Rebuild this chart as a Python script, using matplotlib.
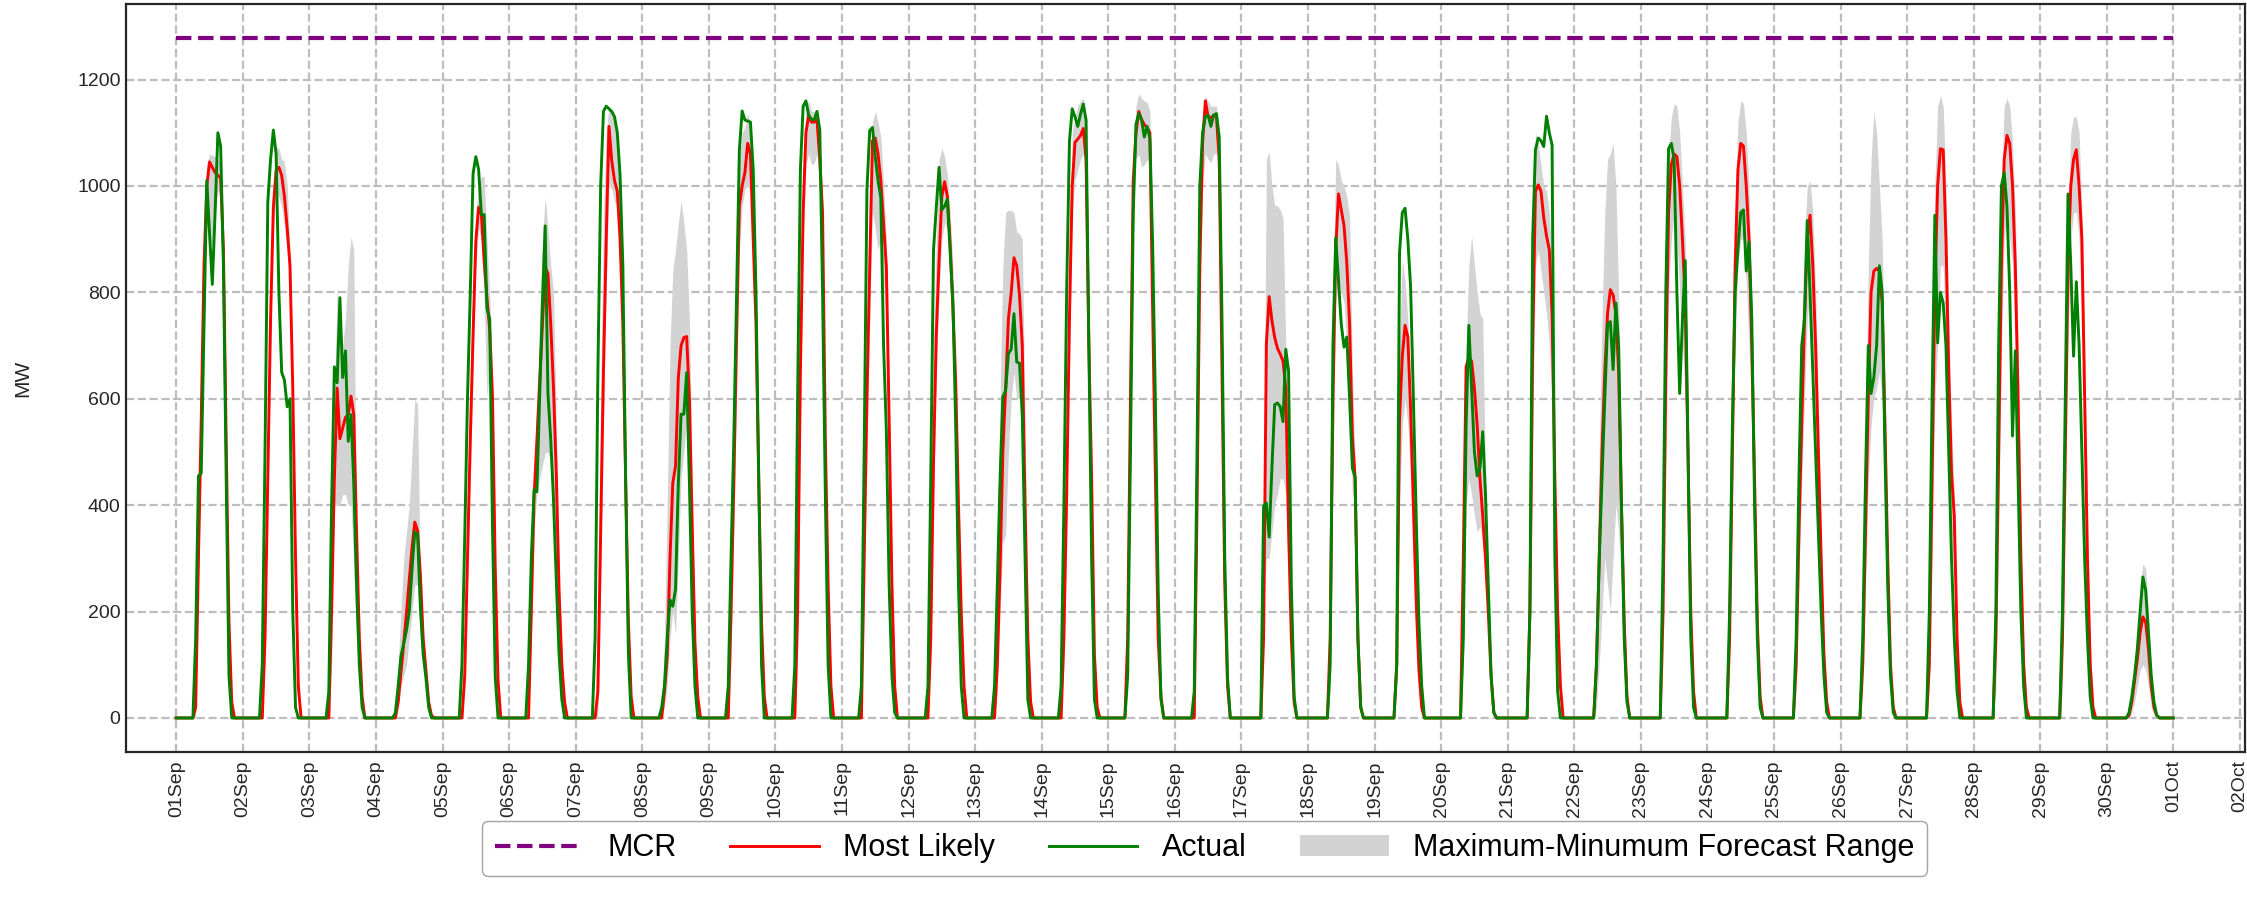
import numpy as np
import pandas as pd
import matplotlib
matplotlib.use('Agg')
import matplotlib.pyplot as plt
import matplotlib.dates as mdates
from matplotlib.patches import Patch
from matplotlib.lines import Line2D

plt.rcParams['font.family'] = ['Liberation Sans', 'DejaVu Sans']

# hours of the day covered by each daily row (06:00 .. 21:00)
HOURS = list(range(6, 22))
START = '2023-09-01 00:00'
N_DAYS = 30
MCR = 1278

actual = [
    [0,150,455,460,740,1010,910,815,950,1100,1075,850,450,80,0,0],
    [0,100,500,970,1050,1105,1060,800,650,635,585,600,200,20,0,0],
    [0,50,400,660,630,790,640,690,520,570,440,250,100,20,0,0],
    [0,10,60,116,140,165,200,280,350,345,210,120,76,20,0,0],
    [0,100,340,604,800,1023,1055,1031,946,946,770,750,360,76,0,0],
    [0,100,300,429,425,600,780,925,610,523,410,260,120,35,0,0],
    [0,150,650,1000,1140,1150,1145,1140,1130,1100,1020,850,450,120,0,0],
    [0,20,60,150,222,210,242,441,571,571,649,441,200,60,0,0],
    [0,60,300,523,800,1067,1141,1124,1122,1120,1030,800,450,100,0,0],
    [0,100,600,1030,1150,1160,1133,1125,1125,1140,1105,800,420,100,0,0],
    [0,60,500,994,1104,1110,1055,1010,978,700,540,250,80,10,0,0],
    [0,60,450,880,960,1035,955,962,975,875,780,550,250,60,0,0],
    [0,60,250,450,604,615,685,693,760,669,667,570,300,35,0,0],
    [0,60,400,800,1084,1145,1130,1112,1135,1154,1124,700,300,35,0,0],
    [0,80,500,950,1116,1136,1124,1092,1112,1090,890,590,240,35,0,0],
    [0,50,500,1000,1100,1130,1133,1112,1133,1136,1092,750,300,76,0,0],
    [0,0,398,404,340,470,589,592,585,557,693,652,250,40,0,0],
    [0,0,100,700,903,820,740,697,716,600,470,452,150,20,0,0],
    [0,0,100,874,950,958,900,810,600,380,180,60,0,0,0,0],
    [0,0,150,550,738,620,500,455,470,538,420,250,80,10,0,0],
    [0,0,200,900,1068,1090,1085,1074,1131,1100,1077,300,50,0,0,0],
    [0,0,100,300,450,600,740,745,655,780,700,400,150,30,0,0],
    [0,0,300,800,1070,1080,1050,800,610,750,860,500,150,20,0,0],
    [0,0,200,550,800,880,950,955,840,895,750,400,150,20,0,0],
    [0,0,150,450,700,750,935,800,650,500,350,200,80,10,0,0],
    [0,0,150,450,700,610,640,700,850,800,500,250,80,10,0,0],
    [0,0,200,600,945,705,800,780,700,500,300,150,50,0,0,0],
    [0,0,200,700,1000,1025,960,800,530,690,450,200,60,0,0,0],
    [0,0,200,600,985,850,680,820,700,500,300,150,40,0,0,0],
    [0,0,10,40,80,130,200,265,240,160,80,30,5,0,0,0],
]

most_likely = [
    [0,20,300,560,850,1000,1045,1035,1025,1020,1015,880,520,180,30,0],
    [0,0,150,450,750,960,1030,1035,1020,980,920,850,620,300,60,0],
    [0,0,200,450,620,525,545,565,570,605,570,350,150,40,0,0],
    [0,0,30,84,140,198,260,320,368,352,270,150,90,30,5,0],
    [0,0,80,300,523,720,897,960,946,860,790,730,604,279,70,0],
    [0,0,200,417,520,630,740,848,835,740,620,460,238,100,30,0],
    [0,0,50,350,650,897,1112,1047,1010,990,900,740,450,180,40,0],
    [0,0,50,116,300,441,474,640,700,715,717,600,360,140,40,0],
    [0,0,200,441,720,962,1000,1025,1080,1060,900,740,441,180,40,0],
    [0,0,200,650,950,1100,1133,1120,1120,1124,1050,950,523,250,60,0],
    [0,0,300,600,848,1085,1090,1060,1010,930,848,560,250,60,0,0],
    [0,0,150,480,720,860,980,1008,980,890,767,630,400,198,60,0],
    [0,0,100,280,500,620,750,799,865,850,795,700,400,150,30,0],
    [0,0,150,420,750,1000,1082,1088,1095,1108,1050,700,450,120,20,0],
    [0,150,600,1010,1100,1140,1125,1115,1110,1100,767,450,150,40,0,0],
    [0,0,400,850,1080,1160,1130,1128,1133,1130,1051,650,250,60,0,0],
    [0,0,150,703,792,747,715,695,684,671,620,355,150,30,0,0],
    [0,0,150,600,880,985,955,925,855,740,530,450,150,20,0,0],
    [0,0,100,560,680,738,716,580,398,220,90,20,0,0,0,0],
    [0,0,300,660,678,670,620,550,450,380,300,200,80,10,0,0],
    [0,0,200,700,990,1002,990,940,906,880,760,450,200,60,0,0],
    [0,0,100,300,500,650,760,805,795,760,650,400,180,40,0,0],
    [0,0,200,650,950,1040,1060,1055,1000,900,780,500,200,50,0,0],
    [0,0,150,500,850,1030,1080,1075,1000,900,700,450,180,40,0,0],
    [0,0,100,350,550,750,900,945,850,700,500,300,120,30,0,0],
    [0,0,100,350,600,800,840,845,840,780,550,300,100,20,0,0],
    [0,0,100,450,800,1000,1070,1068,900,650,460,380,150,30,0,0],
    [0,0,150,500,850,1050,1095,1080,1000,850,600,300,100,20,0,0],
    [0,0,150,500,850,1000,1050,1068,1000,900,600,300,100,20,0,0],
    [0,0,5,30,70,110,160,190,180,130,60,20,5,0,0,0],
]

forecast_max = [
    [0,40,350,600,900,1040,1060,1058,1055,1050,1040,900,560,210,40,0],
    [0,0,200,500,800,1000,1075,1070,1050,1045,1000,880,650,330,80,0],
    [0,20,300,600,807,750,700,750,850,905,880,300,150,40,0,0],
    [0,20,100,200,300,350,400,500,598,590,250,180,100,40,0,0],
    [0,10,150,400,620,820,950,1000,1018,1018,897,800,650,320,90,0],
    [0,20,250,450,600,750,900,978,920,850,800,550,300,130,40,0],
    [0,0,200,600,950,1100,1150,1140,1120,1100,1000,800,500,200,50,0],
    [0,20,150,400,700,840,880,930,972,930,880,750,450,180,50,0],
    [0,20,300,600,850,1050,1100,1110,1135,1120,1000,800,500,200,50,0],
    [0,20,300,750,1050,1150,1160,1140,1140,1145,1100,980,560,280,80,0],
    [0,20,400,750,1000,1120,1140,1120,1092,1000,900,620,300,80,0,0],
    [0,20,300,700,900,1050,1071,1055,1020,950,850,700,450,230,70,0],
    [0,20,300,600,850,950,954,954,950,913,910,900,550,200,50,0],
    [0,20,250,550,900,1100,1130,1150,1160,1165,1120,800,500,150,30,0],
    [0,200,700,1050,1150,1173,1165,1160,1157,1140,850,520,200,60,0,0],
    [0,30,550,950,1120,1169,1160,1150,1150,1150,1100,720,300,80,0,0],
    [0,0,400,1050,1064,1000,963,963,955,940,700,400,200,50,0,0],
    [0,0,250,800,1050,1040,1010,1000,980,944,650,480,200,40,0,0],
    [0,0,150,700,862,820,750,600,420,250,100,20,0,0,0,0],
    [0,0,300,700,850,906,850,800,760,750,450,250,100,20,0,0],
    [0,0,300,800,1100,1080,1040,1000,990,950,850,500,250,80,0,0],
    [0,0,200,500,750,950,1050,1060,1080,1000,800,500,250,60,0,0],
    [0,0,300,800,1050,1130,1155,1150,1100,1000,900,600,250,60,0,0],
    [0,0,250,650,950,1120,1160,1155,1100,1000,800,500,220,60,0,0],
    [0,0,200,500,750,900,1000,1010,950,800,600,350,150,40,0,0],
    [0,0,200,550,850,1050,1140,1100,1000,900,650,350,120,30,0,0],
    [0,0,200,650,1000,1150,1170,1150,1000,750,550,420,180,40,0,0],
    [0,0,250,700,1000,1150,1165,1150,1080,950,700,400,150,30,0,0],
    [0,0,200,600,950,1100,1130,1130,1100,950,700,400,150,30,0,0],
    [0,0,10,40,100,170,250,290,280,200,90,30,5,0,0,0],
]

forecast_min = [
    [0,0,250,500,800,950,900,890,950,990,980,840,480,150,20,0],
    [0,0,100,400,700,920,990,980,960,920,880,800,580,270,40,0],
    [0,0,100,400,400,400,420,420,400,400,280,150,60,10,0,0],
    [0,0,20,60,80,100,150,200,250,250,150,100,50,10,0,0],
    [0,0,50,250,450,650,850,920,900,780,604,650,550,230,50,0],
    [0,0,150,350,420,450,474,498,500,480,400,300,180,70,20,0],
    [0,0,0,250,550,800,1000,994,970,962,870,700,400,150,30,0],
    [0,0,20,60,150,200,157,300,450,500,560,450,250,80,20,0],
    [0,0,100,350,600,880,960,994,1000,990,850,650,380,130,30,0],
    [0,0,100,550,880,1040,1060,1040,1043,1060,980,900,480,220,40,0],
    [0,0,200,500,750,950,920,880,900,820,750,480,200,40,0,0],
    [0,0,100,400,650,800,900,930,920,840,700,560,350,160,40,0],
    [0,0,50,200,330,344,500,600,650,600,600,500,250,80,10,0],
    [0,0,100,350,650,950,1010,1030,1050,1060,980,620,380,80,10,0],
    [0,50,450,950,1050,1060,1035,1040,1050,1040,700,400,120,20,0,0],
    [0,0,300,750,1000,1060,1050,1043,1060,1060,1000,580,200,40,0,0],
    [0,0,200,300,300,350,400,420,450,450,420,250,100,20,0,0],
    [0,0,50,450,780,820,800,780,700,600,420,400,100,10,0,0],
    [0,0,50,400,550,600,550,450,300,150,50,0,0,0,0,0],
    [0,0,100,400,450,420,380,350,360,330,250,150,50,0,0,0],
    [0,0,100,500,850,880,840,800,760,700,600,350,150,40,0,0],
    [0,0,20,100,200,300,250,200,300,400,350,250,100,20,0,0],
    [0,0,100,450,800,900,950,900,800,700,600,350,120,20,0,0],
    [0,0,100,400,700,850,900,900,820,700,550,350,120,20,0,0],
    [0,0,50,250,450,600,750,800,700,550,380,200,80,10,0,0],
    [0,0,50,250,450,550,600,620,650,600,400,200,60,10,0,0],
    [0,0,50,300,600,700,850,850,700,500,350,250,80,10,0,0],
    [0,0,50,350,700,900,950,900,850,700,450,200,60,10,0,0],
    [0,0,50,350,700,900,950,950,900,750,500,200,60,10,0,0],
    [0,0,0,10,30,60,90,100,90,60,20,5,0,0,0,0],
]


def to_hourly(rows):
    vals = []
    for row in rows:
        day = [0.0] * 24
        for h, v in zip(HOURS, row):
            day[h] = float(v)
        vals.extend(day)
    vals.append(0.0)
    return np.array(vals)


times = pd.date_range(START, periods=N_DAYS * 24 + 1, freq='h')
act = to_hourly(actual)
ml = to_hourly(most_likely)
fmax = to_hourly(forecast_max)
fmin = to_hourly(forecast_min)
mcr = np.full(len(times), MCR, dtype=float)

fig = plt.figure(figsize=(22.47, 9.09), dpi=100)
ax = fig.add_axes([0.0561, 0.1727, 0.9430, 0.8229])

ax.fill_between(times, fmin, fmax, color='#d3d3d3', linewidth=0, zorder=2)
ax.plot(times, mcr, color='purple', linestyle='--', linewidth=3, zorder=3)
ax.plot(times, ml, color='red', linewidth=2.1, zorder=4)
ax.plot(times, act, color='green', linewidth=2.1, zorder=5)

t0 = pd.Timestamp(START)
ax.set_xlim(t0 - pd.Timedelta(hours=18.1), t0 + pd.Timedelta(days=31, hours=1.8))
ax.set_ylim(-64, 1342)
ax.set_yticks([0, 200, 400, 600, 800, 1000, 1200])
ax.xaxis.set_major_locator(mdates.DayLocator())
ax.xaxis.set_major_formatter(mdates.DateFormatter('%d%b'))
plt.setp(ax.get_xticklabels(), rotation=90)
ax.tick_params(axis='both', labelsize=14, colors='#262626', length=0)
ax.tick_params(axis='x', pad=6)
ax.tick_params(axis='y', pad=4)
ax.set_ylabel('MW', fontsize=15, color='#262626', labelpad=32)

ax.grid(True, linestyle='--', color='#bdbdbd', linewidth=1.6, zorder=0)
ax.set_axisbelow(True)
for s in ax.spines.values():
    s.set_color('#262626')
    s.set_linewidth(1.6)

handles = [
    Line2D([], [], color='purple', linestyle='--', linewidth=3),
    Line2D([], [], color='red', linewidth=2.1),
    Line2D([], [], color='green', linewidth=2.1),
    Patch(facecolor='#d3d3d3', edgecolor='none'),
]
labels = ['MCR', 'Most Likely', 'Actual', 'Maximum-Minumum Forecast Range']
leg = ax.legend(handles, labels, loc='upper center', bbox_to_anchor=(0.509, -0.072),
                ncol=4, fontsize=22, frameon=True, handlelength=2.9,
                columnspacing=1.75, borderpad=0.4)
leg.get_frame().set_edgecolor('#8c8c8c')

fig.savefig('out.png', dpi=100)
